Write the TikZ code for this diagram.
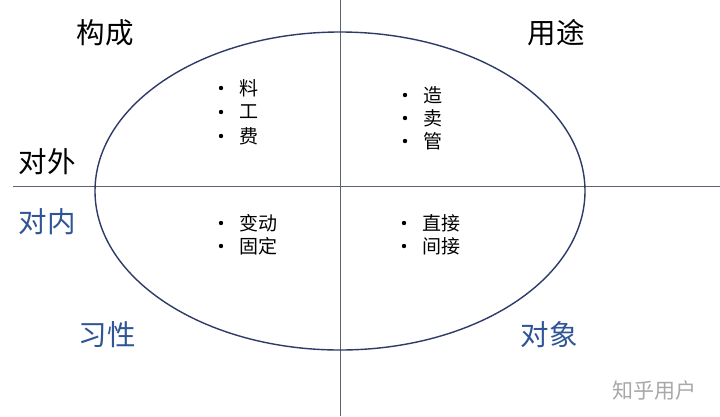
\documentclass[tikz,border=0pt]{standalone}
\usepackage{fontspec}
\newfontfamily\cjk{Noto Sans CJK SC}
\definecolor{linec}{HTML}{5B6272}
\definecolor{ellc}{HTML}{2E3A68}
\definecolor{bluec}{HTML}{2F5597}
\definecolor{wmc}{HTML}{A8A8A8}
\tikzset{
  big/.style={font=\cjk\fontsize{28.5}{30}\selectfont, inner sep=0pt},
  item/.style={font=\cjk\fontsize{19}{20}\selectfont, inner sep=0pt, anchor=west},
  dot/.style={circle, fill=black, inner sep=0pt, minimum size=4.4pt},
}
\begin{document}
\begin{tikzpicture}[x=1pt,y=-1pt]
\useasboundingbox[fill=white] (0,0) rectangle (720,416);
% axes
\coordinate (hl) at (13,186);
\coordinate (hr) at (720,186);
\coordinate (vt) at (340,0);
\coordinate (vb) at (340,416);
\draw[linec, line width=1pt] (hl) -- (hr);
\draw[linec, line width=1pt] (vt) -- (vb);
% ellipse
\draw[ellc, line width=1.4pt] (340,191) ellipse [x radius=245, y radius=159];
% big labels
\node[big] (gc) at (105,33) {构成};
\node[big] (yt) at (556,33) {用途};
\node[big] (dw) at (47,162) {对外};
\node[big, text=bluec] (dn) at (47,222) {对内};
\node[big, text=bluec] (xx) at (107,335) {习性};
\node[big, text=bluec] (dx) at (549,335) {对象};
% items top-left
\node[dot] (b1) at (221,88) {};
\node[dot] (b2) at (221,112) {};
\node[dot] (b3) at (221,136) {};
\node[item] (t1) at (239,88) {料};
\node[item] (t2) at (239,112) {工};
\node[item] (t3) at (239,136) {费};
% items top-right
\node[dot] (c1) at (405,95) {};
\node[dot] (c2) at (405,118) {};
\node[dot] (c3) at (405,141) {};
\node[item] (u1) at (423,95) {造};
\node[item] (u2) at (423,118) {卖};
\node[item] (u3) at (423,141) {管};
% items bottom-left
\node[dot] (d1) at (221,223) {};
\node[dot] (d2) at (221,246) {};
\node[item] (v1) at (239,223) {变动};
\node[item] (v2) at (239,246) {固定};
% items bottom-right
\node[dot] (e1) at (404,223) {};
\node[dot] (e2) at (404,246) {};
\node[item] (w1) at (422,223) {直接};
\node[item] (w2) at (422,246) {间接};
% watermark
\node[font=\cjk\fontsize{21}{22}\selectfont, text=wmc, inner sep=0pt] (wm) at (654,391) {知乎用户};
\end{tikzpicture}
\end{document}
